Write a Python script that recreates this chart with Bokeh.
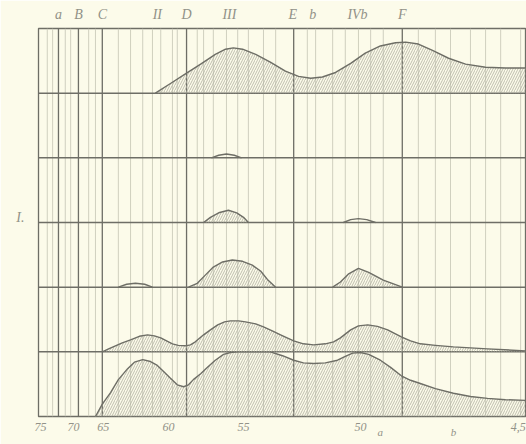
from bokeh.plotting import figure
from bokeh.models import Range1d, LinearAxis, FixedTicker
from bokeh.embed import file_html
from bokeh.resources import INLINE

# ---- data (x: scale position 0..100 along spectrum; heights: % of band height) ----
thin_lines = [1.8, 2.9, 5.5, 6.6, 10.3, 11.7, 16.4, 18.9, 21.4, 23.4, 25.1, 27.5, 28.5,
              32.6, 33.9, 35.9, 38.6, 40.9, 43.1, 46.2, 48.7, 55.2, 56.9, 60.4, 63.0,
              65.7, 68.2, 70.8, 78.0, 81.5, 84.6, 88.7, 91.8, 94.9, 99.0]
heavy_lines = [4.1, 8.2, 13.1, 30.4, 52.4, 74.7]          # a, B, C, D, E, F
band_bases = [1, 2, 3, 4, 5]

top_pos = [4.1, 8.2, 13.1, 24.4, 30.4, 39.2, 52.2, 56.3, 65.5, 74.7]
top_labels = ["a", "B", "C", "II", "D", "III", "E", "b", "IVb", "F"]
bottom_pos = [0.4, 7.2, 13.3, 26.7, 42.1, 66.1, 98.5]
bottom_labels = ["75", "70", "65", "60", "55", "50", "4,5"]
bottom2_pos = [70.2, 85.2]
bottom2_labels = ["a", "b"]
left_pos = [3.08]
left_labels = ["I."]

# band 6 (top)
b6_x = [24.0, 27.1, 30.4, 33.3, 36.3, 38.4, 40.0, 41.9, 44.6, 47.6, 50.7, 53.4, 55.9, 58.3,
        61.0, 64.1, 67.1, 70.2, 73.3, 75.4, 78.0, 80.9, 84.2, 87.7, 91.8, 95.9, 100.0]
b6_h = [0, 15, 31, 45, 60, 68, 70, 68, 60, 48, 34, 26, 23, 25,
        32, 46, 62, 73, 78, 79, 76, 66, 54, 45, 40, 39, 39]
# band 5
b5_x = [35.5, 37.0, 38.6, 40.2, 41.7]
b5_h = [0, 4, 6, 4, 0]
# band 4
b4a_x = [33.9, 35.3, 37.0, 39.0, 40.7, 42.1, 43.1]
b4a_h = [0, 8, 15, 19, 15, 8, 0]
b4b_x = [62.6, 64.1, 65.7, 67.4, 69.2]
b4b_h = [0, 4.5, 6, 4.5, 0]
# band 3
b3a_x = [16.4, 18.1, 19.9, 21.8, 23.4]
b3a_h = [0, 4.5, 6, 4.5, 0]
b3b_x = [30.8, 32.6, 34.3, 35.9, 37.8, 39.8, 41.9, 43.9, 45.6, 47.0, 48.7]
b3b_h = [0, 6, 19, 31, 39, 42, 40, 34, 25, 12, 0]
b3c_x = [60.4, 62.0, 63.6, 65.7, 67.8, 70.8, 74.7]
b3c_h = [0, 8, 20, 29, 23, 11, 0]
# band 2
b2_x = [13.1, 14.4, 15.8, 17.2, 18.9, 20.7, 22.4, 23.8, 25.1, 26.3,
        27.5, 28.7, 30.2, 31.2, 32.2, 33.9, 35.3, 36.8, 38.2, 39.4,
        41.1, 42.5, 44.6, 46.2, 48.0, 49.7, 52.4, 54.4, 56.5, 58.9,
        60.6, 62.0, 64.1, 65.7, 67.6, 69.6, 71.7, 73.3, 74.5, 76.4,
        78.4, 81.5, 85.2, 92.2, 100.0]
b2_h = [0, 4.6, 9.3, 13.9, 18.6, 24.0, 26.3, 24.7, 21.6, 17.0,
        12.4, 10.0, 9.3, 10.8, 15.5, 26.3, 34.0, 41.7, 46.4, 47.9,
        47.9, 46.4, 43.3, 38.7, 32.5, 26.3, 17.0, 12.4, 10.8, 12.4,
        15.5, 21.6, 34.0, 40.2, 41.7, 39.4, 34.0, 27.8, 23.2, 17.0,
        12.4, 10.0, 7.7, 4.6, 1.5]
# band 1 (bottom)
b1_x = [11.7, 13.1, 14.8, 16.4, 18.3, 19.7, 21.4, 23.0, 24.4, 25.9,
        27.1, 28.5, 29.8, 30.8, 31.8, 33.3, 34.7, 36.3, 38.0, 39.4,
        40.9, 47.6, 50.1, 52.4, 54.4, 56.5, 58.9, 61.4, 63.0, 64.5,
        66.1, 67.8, 70.2, 72.3, 74.5, 76.4, 78.4, 81.5, 85.2, 88.7,
        92.2, 95.9, 100.0]
b1_h = [0, 19, 37, 57, 74, 84, 88, 85, 79, 68,
        59, 49, 46, 49, 57, 66, 76, 87, 96, 99,
        100, 100, 94, 87, 83, 82, 83, 87, 93, 98,
        99, 96, 87, 76, 63, 56, 51, 43, 36, 31,
        28, 26, 25]

curves = [
    (0, b1_x, b1_h, True), (1, b2_x, b2_h, True),
    (2, b3a_x, b3a_h, False), (2, b3b_x, b3b_h, True), (2, b3c_x, b3c_h, True),
    (3, b4a_x, b4a_h, True), (3, b4b_x, b4b_h, False),
    (4, b5_x, b5_h, False), (5, b6_x, b6_h, True),
]

BG = "#FCFBEA"
INK = "#6e6e66"
TXT = "#929288"

p = figure(width=526, height=444, output_backend="svg", toolbar_location=None,
           x_range=Range1d(0, 100), y_range=Range1d(0, 6),
           y_axis_location=None, min_border_left=38, min_border_right=1,
           min_border_top=28, min_border_bottom=28)
p.background_fill_color = BG
p.border_fill_color = BG
p.outline_line_color = INK
p.outline_line_width = 1.3
p.xgrid.visible = False
p.ygrid.visible = False

# grid of spectrum lines
p.segment(x0=thin_lines, y0=[0] * len(thin_lines), x1=thin_lines, y1=[6] * len(thin_lines),
          line_color="#cbcbba", line_width=0.9)
p.segment(x0=heavy_lines, y0=[0] * len(heavy_lines), x1=heavy_lines, y1=[6] * len(heavy_lines),
          line_color=INK, line_width=1.3)
p.segment(x0=[0] * len(band_bases), y0=band_bases, x1=[100] * len(band_bases), y1=band_bases,
          line_color=INK, line_width=1.5)

for base, xs, hs, hatched in curves:
    ys = [base + h / 100 for h in hs]
    if hatched:
        p.varea(x=xs, y1=[base] * len(xs), y2=ys, fill_color=None,
                hatch_pattern="/", hatch_color="#aeae9f", hatch_weight=0.8, hatch_scale=5)
    p.line(xs, ys, line_color=INK, line_width=1.4, line_join="round")

# axes
ax = p.xaxis[0]
ax.ticker = FixedTicker(ticks=bottom_pos)
ax.major_label_overrides = {v: t for v, t in zip(bottom_pos, bottom_labels)}
ax2 = LinearAxis(ticker=FixedTicker(ticks=bottom2_pos),
                 major_label_overrides={v: t for v, t in zip(bottom2_pos, bottom2_labels)})
p.add_layout(ax2, "below")
top = LinearAxis(ticker=FixedTicker(ticks=top_pos),
                 major_label_overrides={v: t for v, t in zip(top_pos, top_labels)})
p.add_layout(top, "above")
left = LinearAxis(ticker=FixedTicker(ticks=left_pos),
                  major_label_overrides={v: t for v, t in zip(left_pos, left_labels)})
p.add_layout(left, "left")
for a, size, so, tout in [(ax, "12px", 6, 0), (ax2, "11px", -8, 0),
                          (top, "14px", 1, 6), (left, "14px", 14, 0)]:
    a.axis_line_color = None
    a.major_tick_line_color = None
    a.minor_tick_line_color = None
    a.major_tick_out = tout
    a.major_tick_in = 0
    a.minor_tick_out = 0
    a.minor_tick_in = 0
    a.major_label_text_font = "Liberation Serif"
    a.major_label_text_font_style = "italic"
    a.major_label_text_color = TXT
    a.major_label_text_font_size = size
    a.major_label_standoff = so
left.major_label_orientation = "horizontal"

open("out.html", "w").write(file_html(p, INLINE))
